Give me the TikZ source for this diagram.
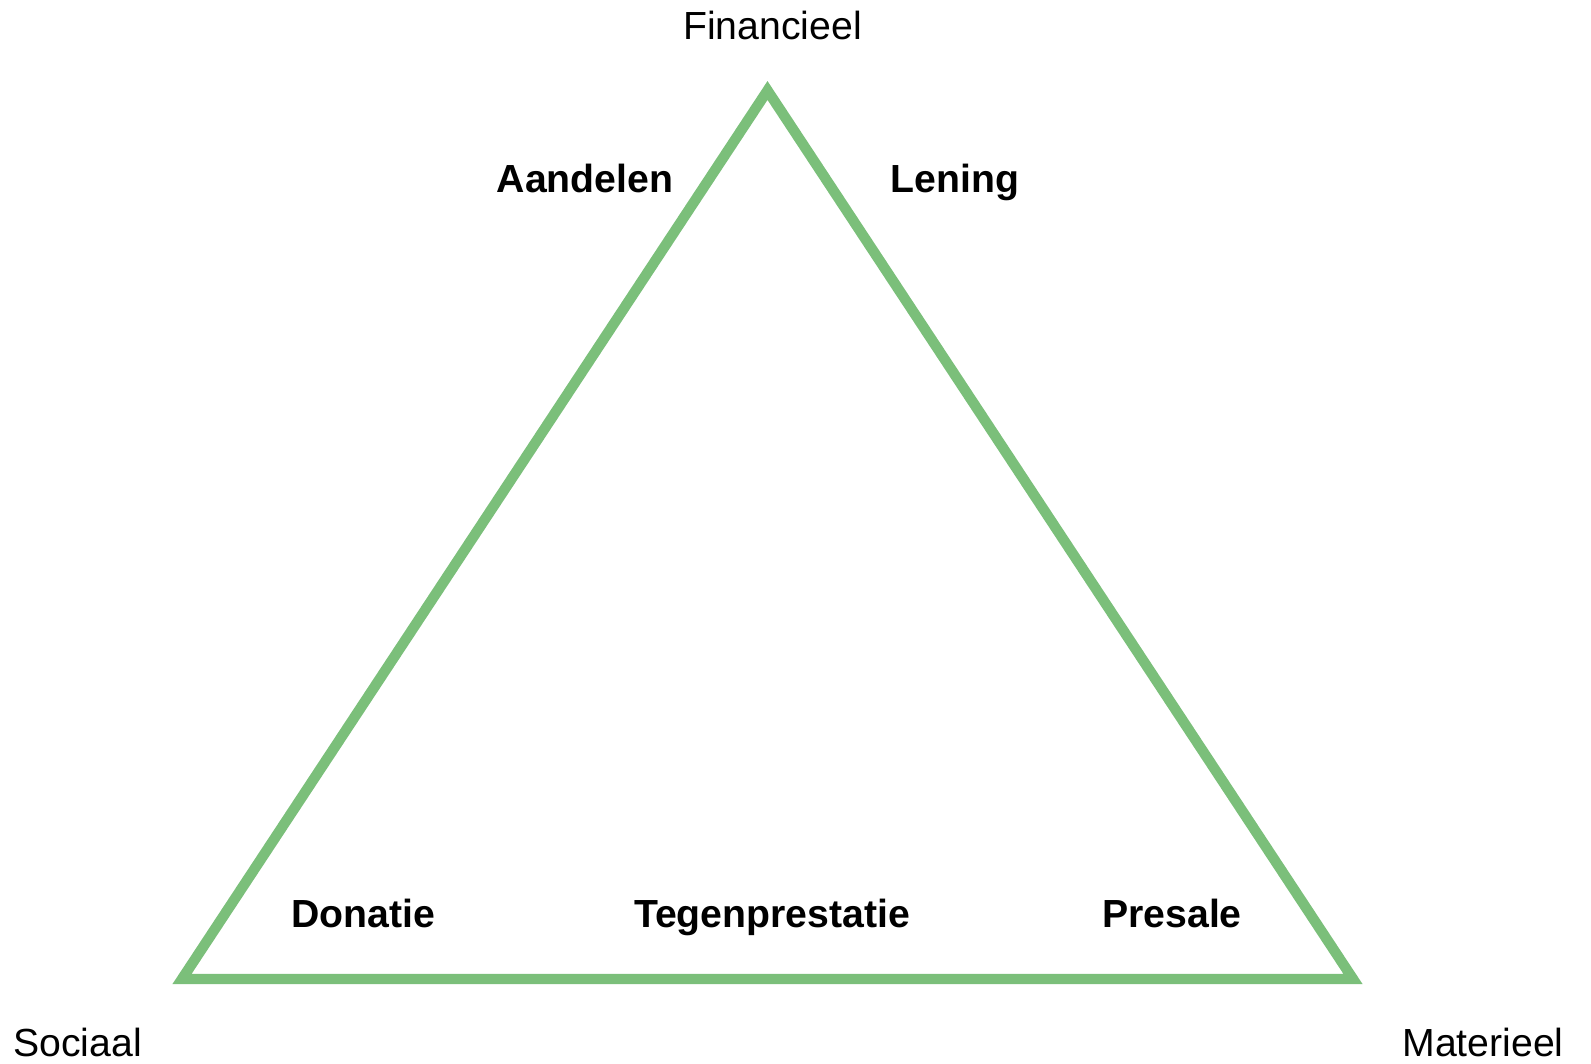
\documentclass[tikz,border=0pt]{standalone}
\usepackage{fontspec}
\setmainfont{Liberation Sans}
\usetikzlibrary{positioning}
\definecolor{triangreen}{RGB}{123,191,122}

\begin{document}
\begin{tikzpicture}[x=0.5pt, y=-0.5pt,
  corner/.style={anchor=base, font=\fontsize{19.6}{23}\selectfont},
  method/.style={anchor=base, font=\fontsize{19.6}{23}\selectfont\bfseries}]
  \useasboundingbox (0,0) rectangle (1591,1064);

  % Eckpunkte des Dreiecks
  \coordinate (top) at (767.5,90.5);
  \coordinate (left) at (182,979);
  \coordinate (right) at (1353,979);
  \draw[triangreen, line width=5.2pt, miter limit=10] (top) -- (right) -- (left) -- cycle;

  % Ecken
  \node[corner] (financieel) at (772.5,40) {Financieel};
  \node[corner] (sociaal) at (77.5,1056) {Sociaal};
  \node[corner] (materieel) at (1483,1056) {Materieel};

  % Vormen
  \node[method] (aandelen) at (585,193) {Aandelen};
  \node[method] (lening) at (955,193) {Lening};
  \node[method] (donatie) at (363.5,927) {Donatie};
  \node[method] (tegenprestatie) at (772,927) {Tegenprestatie};
  \node[method] (presale) at (1172,927) {Presale};
\end{tikzpicture}
\end{document}
